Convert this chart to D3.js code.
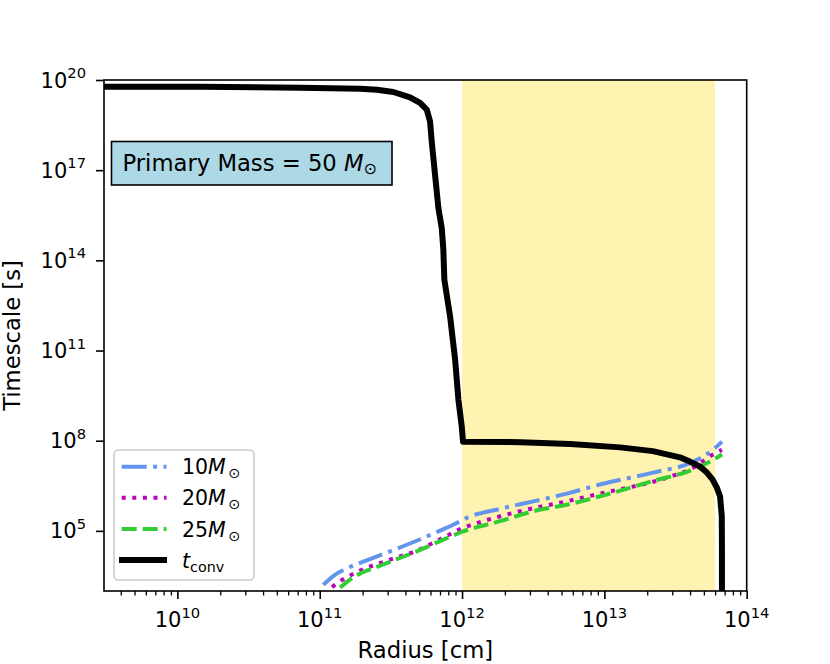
<!DOCTYPE html>
<html><head><meta charset="utf-8">
<script src="https://cdn.jsdelivr.net/npm/d3@7"></script>
<style>body{margin:0;background:#fff} svg{display:block;font-family:"DejaVu Sans",sans-serif}</style>
</head><body><svg id="c" width="830" height="664"></svg>
<script>
// ---- data ----
const xTicks = [1e10, 1e11, 1e12, 1e13, 1e14];
const xTickExp = ["10", "11", "12", "13", "14"];
const yTicks = [1e5, 1e8, 1e11, 1e14, 1e17, 1e20];
const yTickExp = ["5", "8", "11", "14", "17", "20"];
const xDomain = [3.05e9, 1e14];
const yDomain = [1e3, 1e20];
const spanRange = [1e12, 6e13];

const convRadius = [3.05e9, 1.44e10, 7.28e10, 1.92e11, 2.52e11, 3.29e11, 4.31e11, 5.07e11, 5.65e11, 5.96e11,
  6.12e11, 6.46e11, 6.82e11, 7.2e11, 7.39e11, 7.51e11, 8.24e11, 8.94e11, 9.43e11, 9.95e11,
  1.016e12, 2.57e12, 5.75e12, 1.29e13, 2.19e13, 3.39e13, 3.99e13, 4.68e13, 5.25e13, 5.75e13,
  6.17e13, 6.5e13, 6.68e13, 6.7e13, 6.7e13];
const convTime = [6.0e19, 6.0e19, 5.56e19, 5.15e19, 4.77e19, 3.99e19, 2.64e19, 1.72e19, 1.03e19, 4.2e18,
  9.1e17, 7.1e16, 5.5e15, 1.19e15, 2.26e14, 2.28e13, 1.37e12, 4.95e10, 2.3e9, 3.0e8,
  9.3e7, 8.9e7, 7.8e7, 6.0e7, 4.5e7, 2.8e7, 2.02e7, 1.4e7, 8.7e6, 5.2e6,
  2.75e6, 1.4e6, 3.1e5, 2.5e4, 1e2];

const r10 = [1.06e11, 1.25e11, 1.63e11, 2.14e11, 3.12e11, 4.81e11, 7.0e11, 9.2e11, 1.08e12, 1.85e12, 3.17e12, 5.44e12, 9.3e12, 2.2e13, 4.2e13, 5.8e13, 6.7e13];
const t10 = [1.62e3, 3.2e3, 6.3e3, 1.05e4, 2.09e4, 4.7e4, 1.02e5, 1.83e5, 2.7e5, 5.4e5, 9.6e5, 1.73e6, 3.5e6, 8.7e6, 2.0e7, 5.0e7, 9.3e7];
const r20 = [1.22e11, 1.39e11, 1.87e11, 2.96e11, 4.81e11, 7.4e11, 1.02e12, 1.41e12, 2.7e12, 5.15e12, 9.3e12, 2.75e13, 4.2e13, 5.8e13, 6.7e13];
const t20 = [1.35e3, 2.1e3, 4.5e3, 1.02e4, 2.2e4, 6.0e4, 1.26e5, 2.1e5, 4.8e5, 9.1e5, 1.73e6, 5.9e6, 1.26e7, 3.5e7, 5.0e7];
const r25 = [1.39e11, 1.63e11, 2.8e11, 4.81e11, 7.4e11, 1.02e12, 1.85e12, 3.17e12, 5.44e12, 9.3e12, 2.2e13, 4.2e13, 5.8e13, 6.7e13];
const t25 = [1.3e3, 2.4e3, 7.6e3, 2.09e4, 5.1e4, 9.6e4, 2.1e5, 4.5e5, 7.4e5, 1.41e6, 4.6e6, 1.1e7, 2.3e7, 3.5e7];

const massLabels = ["10", "20", "25"];
const massColors = ["#6495ed", "#bf00bf", "#32cd32"];
const massDashes = ["25,6.4,4,6.4", "4,6.6", "15,6"];
const boxText = "Primary Mass = 50 ";
const xLabel = "Radius [cm]";
const yLabel = "Timescale [s]";

// ---- layout ----
const L = 104, R = 746.7, T = 80, B = 591;
const svg = d3.select("#c");
const x = d3.scaleLog().domain(xDomain).range([L, R]);
const y = d3.scaleLog().domain(yDomain).range([B, T]);

svg.append("defs").append("clipPath").attr("id", "clip")
  .append("rect").attr("x", L).attr("y", T).attr("width", R - L).attr("height", B - T);

// span
svg.append("rect").attr("x", x(spanRange[0])).attr("y", T)
  .attr("width", x(spanRange[1]) - x(spanRange[0])).attr("height", B - T)
  .attr("fill", "#fff3b2");

const g = svg.append("g").attr("clip-path", "url(#clip)");
const smooth = d3.line().x(d => x(d[0])).y(d => y(d[1])).curve(d3.curveMonotoneX);
const straight = d3.line().x(d => x(d[0])).y(d => y(d[1]));

const series = [[r10, t10], [r20, t20], [r25, t25]];
series.forEach((s, i) => {
  g.append("path").datum(s[0].map((r, j) => [r, s[1][j]]))
    .attr("d", smooth).attr("fill", "none")
    .attr("stroke", massColors[i]).attr("stroke-width", 4)
    .attr("stroke-dasharray", massDashes[i]);
});
g.append("path").datum(convRadius.map((r, j) => [r, convTime[j]]))
  .attr("d", straight).attr("fill", "none").attr("stroke", "#000")
  .attr("stroke-width", 6).attr("stroke-linejoin", "round");

// frame
svg.append("rect").attr("x", L).attr("y", T).attr("width", R - L).attr("height", B - T)
  .attr("fill", "none").attr("stroke", "#000").attr("stroke-width", 1.6);

// x axis
const minor = x.ticks().filter(v => !xTicks.some(t => Math.abs(t - v) / t < 1e-6));
svg.append("g").attr("transform", `translate(0,${B})`)
  .call(d3.axisBottom(x).tickValues(minor).tickSize(4.5).tickFormat(""))
  .call(a => { a.select(".domain").remove(); a.selectAll("line").attr("stroke-width", 1.3); });
svg.append("g").attr("transform", `translate(0,${B})`)
  .call(d3.axisBottom(x).tickValues(xTicks).tickSize(8).tickFormat(""))
  .call(a => { a.select(".domain").remove(); a.selectAll("line").attr("stroke-width", 1.6); });
xTicks.forEach((v, i) => {
  const t = svg.append("text").attr("x", x(v)).attr("y", 627).attr("text-anchor", "middle")
    .attr("font-size", 21).attr("fill", "#000");
  t.append("tspan").text("10");
  t.append("tspan").attr("dy", -9.5).attr("font-size", 14.7).text(xTickExp[i]);
});
// y axis
svg.append("g").attr("transform", `translate(${L},0)`)
  .call(d3.axisLeft(y).tickValues(yTicks).tickSize(8).tickFormat(""))
  .call(a => { a.select(".domain").remove(); a.selectAll("line").attr("stroke-width", 1.6); });
yTicks.forEach((v, i) => {
  const t = svg.append("text").attr("x", 86).attr("y", y(v) + 7.5).attr("text-anchor", "end")
    .attr("font-size", 21).attr("fill", "#000");
  t.append("tspan").text("10");
  t.append("tspan").attr("dy", -9.5).attr("font-size", 14.7).text(yTickExp[i]);
});

// axis labels
svg.append("text").attr("x", (L + R) / 2).attr("y", 658).attr("text-anchor", "middle")
  .attr("font-size", 22.7).text(xLabel);
svg.append("text").attr("transform", `translate(20,${(T + B) / 2}) rotate(-90)`)
  .attr("text-anchor", "middle").attr("font-size", 22.7).text(yLabel);

// text box
svg.append("rect").attr("x", 111.5).attr("y", 141.5).attr("width", 280.5).attr("height", 43.5)
  .attr("fill", "#add8e6").attr("stroke", "#000").attr("stroke-width", 1.6);
const bt = svg.append("text").attr("x", 122.5).attr("y", 171).attr("font-size", 22.7);
bt.append("tspan").text(boxText);
bt.append("tspan").attr("font-style", "italic").text("M");
bt.append("tspan").attr("dy", 3).attr("font-size", 15.9).text("⊙");

// legend
const lg = svg.append("g");
lg.append("rect").attr("x", 114).attr("y", 450).attr("width", 140).attr("height", 130)
  .attr("rx", 4.5).attr("fill", "#fff").attr("fill-opacity", 0.8)
  .attr("stroke", "#cccccc").attr("stroke-width", 1.6);
const rowY = [466.7, 497.7, 529, 560];
massLabels.forEach((m, i) => {
  lg.append("line").attr("x1", 121.7).attr("x2", 166.5).attr("y1", rowY[i]).attr("y2", rowY[i])
    .attr("stroke", massColors[i]).attr("stroke-width", 4).attr("stroke-dasharray", massDashes[i]);
  const t = lg.append("text").attr("x", 182).attr("y", rowY[i] + 7.5).attr("font-size", 20.5);
  t.append("tspan").text(m);
  t.append("tspan").attr("font-style", "italic").text("M");
  t.append("tspan").attr("dx", 2.5).attr("dy", 4).attr("font-size", 14.3).text("⊙");
});
lg.append("line").attr("x1", 122).attr("x2", 164).attr("y1", rowY[3]).attr("y2", rowY[3])
  .attr("stroke", "#000").attr("stroke-width", 6).attr("stroke-linecap", "square");
const tc = lg.append("text").attr("x", 182).attr("y", rowY[3] + 7.5).attr("font-size", 20.5);
tc.append("tspan").attr("font-style", "italic").text("t");
tc.append("tspan").attr("dy", 4).attr("font-size", 14.3).text("conv");
</script></body></html>
